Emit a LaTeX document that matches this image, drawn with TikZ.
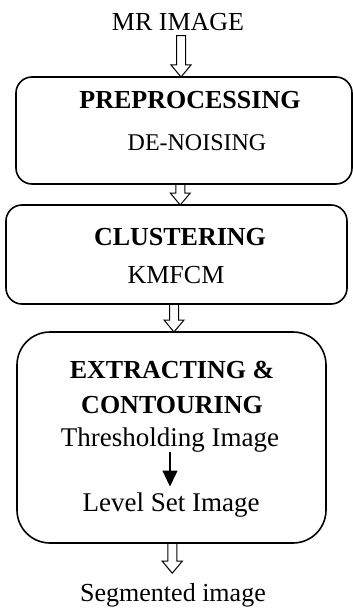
\documentclass[tikz,border=0pt]{standalone}
\usepackage{fontspec}
\setmainfont{Liberation Serif}
\usetikzlibrary{calc,arrows.meta}
\begin{document}
\begin{tikzpicture}[x=1pt,y=-1pt,
      stagebox/.style={draw, line width=1.6pt, rounded corners=#1, inner sep=0pt, outer sep=0pt},
      stagebox/.default=16pt,
      head/.style={font=\bfseries\fontsize{26}{30}\selectfont, inner sep=0pt},
      txt/.style={font=\fontsize{26}{30}\selectfont, inner sep=0pt},
      hollowarrow/.style={line width=1pt, to path={let \p1=(\tikztostart.south), \p2=(\tikztotarget.north),
          \p3=($(\p1)!.5!(\p2)$) in
          (\x3-4.5pt,\y1) -- (\x3-4.5pt,\y2+12pt) -- (\x3-10pt,\y2+12pt) -- (\x3,\y2)
          -- (\x3+10pt,\y2+12pt) -- (\x3+4.5pt,\y2+12pt) -- (\x3+4.5pt,\y1) -- cycle}},
      arrow/.style={-{Triangle[length=16pt,width=15pt]}, line width=1.2pt}
      ]
      \useasboundingbox (0,0) rectangle (353,610);

      % Input
      \node[txt, outer sep=5pt] (mr) at (178,22) {MR IMAGE};

      % Stage 1
      \node[stagebox, minimum width=336pt, minimum height=107pt] (pre) at (184,130.5) {};
      \node[head] (preT) at (190,100) {PREPROCESSING};
      \node[txt, font=\fontsize{24}{28}\selectfont] (preS) at (197,143) {DE-NOISING};

      % Stage 2
      \node[stagebox, minimum width=341pt, minimum height=99pt] (clu) at (176.5,254.5) {};
      \node[head] (cluT) at (180,237) {CLUSTERING};
      \node[txt] (cluS) at (176,275) {KMFCM};

      % Stage 3
      \node[stagebox=33pt, minimum width=309pt, minimum height=211pt] (ext) at (171.5,437.5) {};
      \node[head] (extT) at (172,370) {EXTRACTING \&};
      \node[head] (conT) at (172,405) {CONTOURING};
      \node[txt, font=\fontsize{27}{31}\selectfont] (thr) at (170,440) {Thresholding Image};
      \node[txt, font=\fontsize{27}{31}\selectfont] (lvl) at (171,505) {Level Set Image};

      % Output
      \node[txt, outer sep=10pt] (seg) at (173,595) {Segmented image};

      % Arrows
      \draw[hollowarrow] (mr) to (pre);
      \draw[hollowarrow] (pre) to (clu);
      \draw[hollowarrow] (clu) to (ext);
      \draw[hollowarrow] (ext) to (seg);
      \draw[arrow] (thr.south) -- ([yshift=6pt]thr.south |- lvl.north);

    \end{tikzpicture}
\end{document}
